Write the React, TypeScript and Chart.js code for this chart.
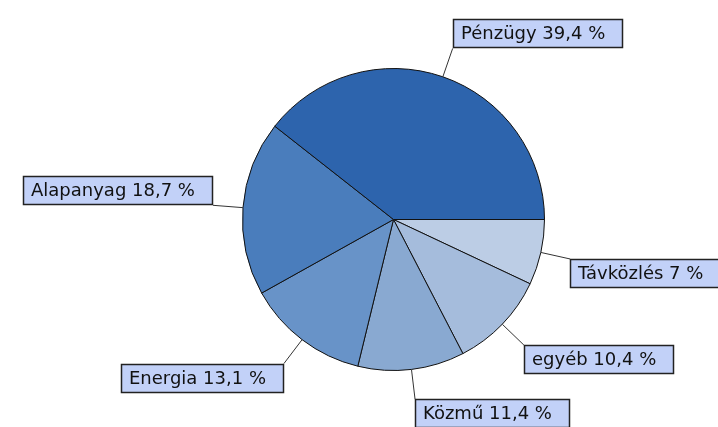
import React, { useEffect, useRef } from "react";
import { Chart, registerables } from "chart.js";

Chart.register(...registerables);

// Clockwise from 3 o'clock (the reference runs counter-clockwise from Pénzügy)
const categories = ["Távközlés", "egyéb", "Közmű", "Energia", "Alapanyag", "Pénzügy"];
const shares = [7, 10.4, 11.4, 13.1, 18.7, 39.4];
const sliceColors = ["#bccde5", "#a5bcdc", "#89a9d1", "#6893c8", "#4a7dbc", "#2d64ad"];

const fmt = (v: number) => String(v).replace(".", ",") + " %";

const calloutPlugin = {
  id: "callouts",
  afterDatasetsDraw(chart: any) {
    const ctx: CanvasRenderingContext2D = chart.ctx;
    const meta = chart.getDatasetMeta(0);
    ctx.save();
    ctx.font = "18px 'DejaVu Sans'";
    meta.data.forEach((arc: any, i: number) => {
      const { x, y, outerRadius, startAngle, endAngle } = arc.getProps(
        ["x", "y", "outerRadius", "startAngle", "endAngle"],
        true
      );
      const mid = (startAngle + endAngle) / 2;
      const c = Math.cos(mid);
      const s = Math.sin(mid);
      const x1 = x + outerRadius * c;
      const y1 = y + outerRadius * s;
      const ext = outerRadius + 30;
      const x2 = x + ext * c;
      const y2 = y + ext * s;
      ctx.strokeStyle = "#333";
      ctx.lineWidth = 1;
      ctx.beginPath();
      ctx.moveTo(x1, y1);
      ctx.lineTo(x2, y2);
      ctx.stroke();

      const text = categories[i] + " " + fmt(shares[i]);
      const tw = ctx.measureText(text).width;
      const w = Math.round(tw + 26);
      const h = 29;
      const bx = Math.round(c >= 0 ? x2 : x2 - w);
      const by = Math.round(s >= 0 ? y2 : y2 - h);
      ctx.fillStyle = "#c2d1f8";
      ctx.fillRect(bx, by, w, h);
      ctx.strokeStyle = "#222";
      ctx.lineWidth = 1.5;
      ctx.strokeRect(bx + 0.5, by + 0.5, w - 1, h - 1);
      ctx.fillStyle = "#111";
      ctx.textBaseline = "middle";
      ctx.textAlign = "left";
      ctx.fillText(text, bx + 8, by + h / 2 + 1);
    });
    ctx.restore();
  },
};

export default function App() {
  const ref = useRef<HTMLCanvasElement | null>(null);
  useEffect(() => {
    if (!ref.current) return;
    const chart = new Chart(ref.current, {
      type: "pie",
      data: {
        labels: categories,
        datasets: [
          {
            data: shares,
            backgroundColor: sliceColors,
            borderColor: "#111",
            borderWidth: 1,
          },
        ],
      },
      options: {
        responsive: false,
        animation: false,
        rotation: 90,
        layout: { padding: { left: 242, top: 68, right: 173, bottom: 56 } },
        plugins: {
          legend: { display: false },
          tooltip: { enabled: false },
        },
      },
      plugins: [calloutPlugin],
    });
    return () => chart.destroy();
  }, []);
  return (
    <div style={{ position: "absolute", left: 0, top: 0, width: 718, height: 427, background: "#fff" }}>
      <canvas ref={ref} width={718} height={427} />
    </div>
  );
}
